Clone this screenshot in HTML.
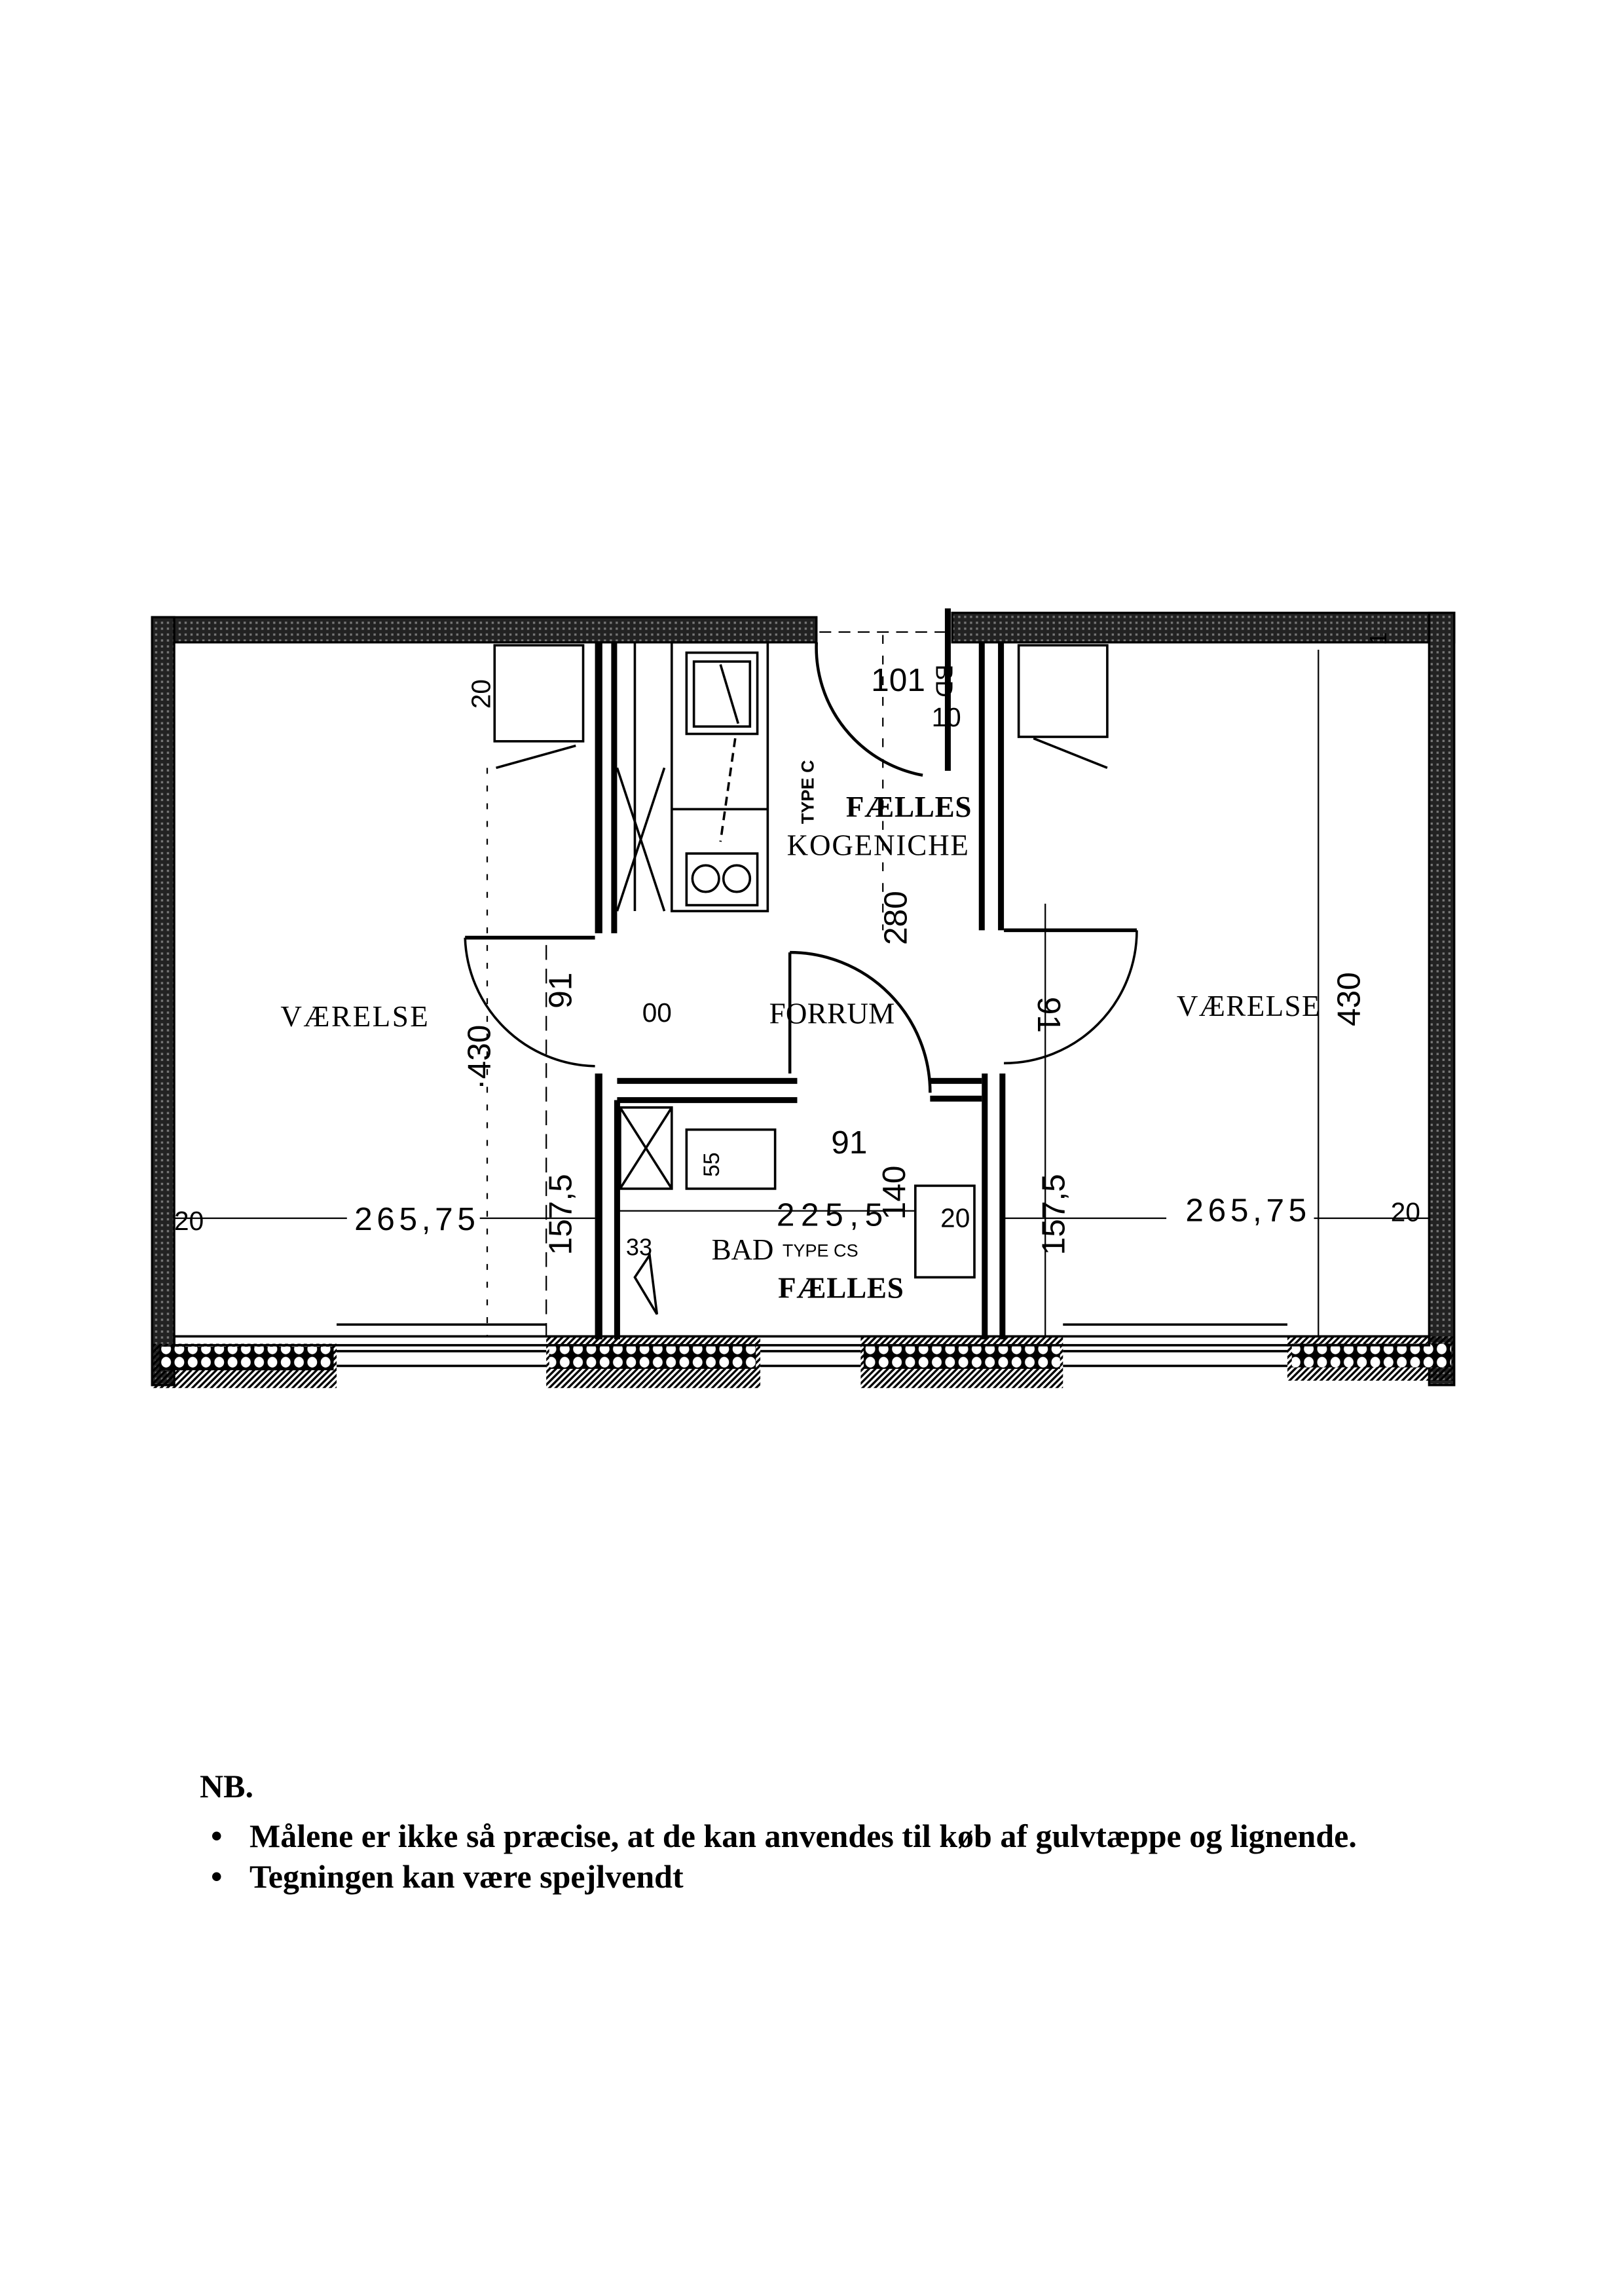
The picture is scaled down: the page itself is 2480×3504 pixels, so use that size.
<!DOCTYPE html>
<html><head><meta charset="utf-8"><style>
html,body{margin:0;padding:0;background:#fff}
body{width:2480px;height:3504px;position:relative;overflow:hidden}
svg{position:absolute;left:0;top:0}
.nb{position:absolute;font-family:"Liberation Serif",serif;font-weight:bold;font-size:50px;color:#000;white-space:nowrap}
</style></head><body>
<svg width="2480" height="3504" viewBox="0 0 1100 1554.2" xmlns="http://www.w3.org/2000/svg">
<defs>
<pattern id="h" width="3" height="3" patternUnits="userSpaceOnUse" patternTransform="rotate(45)"><rect width="1.5" height="3" fill="#000"/></pattern>
<pattern id="b" width="9" height="9" patternUnits="userSpaceOnUse"><rect width="9" height="9" fill="#000"/><ellipse cx="4.5" cy="4.5" rx="3.3" ry="3.6" fill="#fff"/></pattern>
<pattern id="w" width="4" height="4" patternUnits="userSpaceOnUse"><rect width="4" height="4" fill="#222"/><rect x="1" y="1" width="1.5" height="1.5" fill="#777"/></pattern>
</defs>
<g fill="url(#w)" stroke="#000" stroke-width="1.5">
<rect x="103" y="418" width="450" height="17"/>
<rect x="645" y="415" width="340" height="20"/>
<rect x="103" y="418" width="15" height="520"/>
<rect x="968" y="415" width="17" height="523"/>
</g>
<g fill="#000" stroke="none">
<rect x="640" y="412" width="4" height="110"/>
<rect x="403" y="435" width="5" height="197"/><rect x="414" y="435" width="4" height="197"/>
<rect x="663" y="435" width="4" height="195"/><rect x="676" y="435" width="4" height="195"/>
<rect x="403" y="727" width="5" height="180"/><rect x="416" y="745" width="4" height="162"/>
<rect x="665" y="727" width="4" height="180"/><rect x="677" y="727" width="4" height="180"/>
<rect x="418" y="730" width="122" height="4"/><rect x="418" y="743" width="122" height="4"/>
<rect x="630" y="730" width="35" height="4"/><rect x="630" y="742" width="35" height="4"/>
</g>
<g>
<rect x="103" y="910" width="125" height="30" fill="url(#h)"/><rect x="108" y="912" width="118" height="16" fill="url(#b)"/>
<rect x="370" y="905" width="145" height="35" fill="url(#h)"/><rect x="372" y="911" width="140" height="16" fill="url(#b)"/>
<rect x="583" y="905" width="137" height="35" fill="url(#h)"/><rect x="585" y="911" width="133" height="16" fill="url(#b)"/>
<rect x="872" y="905" width="113" height="30" fill="url(#h)"/><rect x="875" y="910" width="108" height="16" fill="url(#b)"/>
</g>
<g fill="none" stroke="#000" stroke-width="1.6">
<rect x="118" y="905" width="850" height="6"/>
<line x1="228" y1="915" x2="370" y2="915"/><line x1="228" y1="925" x2="370" y2="925"/>
<line x1="515" y1="915" x2="583" y2="915"/><line x1="515" y1="925" x2="583" y2="925"/>
<line x1="720" y1="915" x2="872" y2="915"/><line x1="720" y1="925" x2="872" y2="925"/>
<line x1="228" y1="897" x2="370" y2="897"/><line x1="720" y1="897" x2="872" y2="897"/>
<line x1="315" y1="635" x2="403" y2="635" stroke-width="2.5"/>
<path d="M315 635 A90 90 0 0 0 403 722"/>
<line x1="680" y1="630" x2="770" y2="630" stroke-width="2.5"/>
<path d="M770 630 A90 90 0 0 1 680 720"/>
<line x1="535" y1="645" x2="535" y2="727" stroke-width="2"/>
<path d="M535 645 A95 95 0 0 1 630 740" stroke-width="2"/>
<path d="M553 435 A88 88 0 0 0 625 525" stroke-width="2"/>
<rect x="455" y="435" width="65" height="182"/>
<rect x="465" y="442" width="48" height="55"/><rect x="470" y="448" width="38" height="44"/>
<rect x="465" y="578" width="48" height="35"/>
<circle cx="478" cy="595" r="9"/><circle cx="499" cy="595" r="9"/>
<line x1="455" y1="548" x2="520" y2="548"/>
<line x1="418" y1="520" x2="450" y2="617"/><line x1="450" y1="520" x2="418" y2="617"/>
<line x1="430" y1="435" x2="430" y2="617"/>
<line x1="488" y1="450" x2="500" y2="490"/><line x1="498" y1="500" x2="488" y2="570" stroke-dasharray="6 4"/>
<rect x="335" y="437" width="60" height="65"/><line x1="336" y1="520" x2="390" y2="505"/>
<rect x="690" y="437" width="60" height="62"/><line x1="700" y1="500" x2="750" y2="520"/>
<rect x="420" y="750" width="35" height="55"/><line x1="420" y1="750" x2="455" y2="805"/><line x1="455" y1="750" x2="420" y2="805"/>
<rect x="465" y="765" width="60" height="40"/>
<rect x="620" y="803" width="40" height="62"/>
<path d="M430 865 L440 850 L445 890 Z"/>
<line x1="118" y1="825" x2="235" y2="825" stroke-width="1"/><line x1="325" y1="825" x2="403" y2="825" stroke-width="1"/>
<line x1="890" y1="825" x2="968" y2="825" stroke-width="1"/><line x1="680" y1="825" x2="790" y2="825" stroke-width="1"/>
<line x1="370" y1="640" x2="370" y2="905" stroke-width="1" stroke-dasharray="10 6"/>
<line x1="708" y1="612" x2="708" y2="905" stroke-width="1"/>
<line x1="330" y1="520" x2="330" y2="905" stroke-width="1" stroke-dasharray="4 8"/>
<line x1="893" y1="440" x2="893" y2="905" stroke-width="1"/>
<line x1="598" y1="430" x2="598" y2="630" stroke-width="1" stroke-dasharray="6 8"/>
<line x1="555" y1="428" x2="640" y2="428" stroke-width="1" stroke-dasharray="8 5"/>
<line x1="418" y1="820" x2="620" y2="820" stroke-width="1"/>
</g>
<g font-family="Liberation Serif, serif" font-size="20" fill="#000">
<text x="190" y="695" textLength="100">VÆRELSE</text>
<text x="797" y="688" textLength="97">VÆRELSE</text>
<text x="521" y="693" textLength="85">FORRUM</text>
<text x="573" y="553" font-weight="bold" textLength="85">FÆLLES</text>
<text x="533" y="579" textLength="123">KOGENICHE</text>
<text x="482" y="853" textLength="42">BAD</text>
<text x="530" y="851" font-family="Liberation Sans, sans-serif" font-size="12">TYPE CS</text>
<text x="527" y="879" font-weight="bold" textLength="85">FÆLLES</text>
</g>
<g font-family="Liberation Sans, sans-serif" font-size="22" fill="#000">
<text x="240" y="833" textLength="82">265,75</text>
<text x="803" y="827" textLength="82">265,75</text>
<text x="118" y="833" font-size="18">20</text>
<text x="942" y="827" font-size="18">20</text>
<text x="637" y="831" font-size="18">20</text>
<text x="526" y="830" textLength="72">225,5</text>
<text x="563" y="781">91</text>
<text x="590" y="468">101</text>
<text x="631" y="492" font-size="18">10</text>
<text x="435" y="692" font-size="18">00</text>
<text transform="translate(387,850) rotate(-90)">157,5</text>
<text transform="translate(721,850) rotate(-90)">157,5</text>
<text transform="translate(614,640) rotate(-90)">280</text>
<text transform="translate(613,826) rotate(-90)">140</text>
<text transform="translate(387,683) rotate(-90)">91</text>
<text transform="translate(703,675) rotate(90)">91</text>
<text transform="translate(332,738) rotate(-90)">·430</text>
<text transform="translate(921,695) rotate(-90)">430</text>
<text transform="translate(332,480) rotate(-90)" font-size="18">20</text>
<text transform="translate(634,450) rotate(90)" font-size="16">BD</text>
<text transform="translate(939,437) rotate(-90)" font-size="16">1</text>
<text transform="translate(551,558) rotate(-90)" font-size="12" font-weight="bold">TYPE C</text>
<text transform="translate(487,797) rotate(-90)" font-size="15">55</text>
<text x="424" y="850" font-size="16">33</text>
</g>
</svg>
<div class="nb" style="left:305px;top:2698px">NB.</div>
<div class="nb" style="left:322px;top:2774px">•</div>
<div class="nb" style="left:381px;top:2774px">Målene er ikke så præcise, at de kan anvendes til køb af gulvtæppe og lignende.</div>
<div class="nb" style="left:322px;top:2836px">•</div>
<div class="nb" style="left:381px;top:2836px">Tegningen kan være spejlvendt</div>
</body></html>
